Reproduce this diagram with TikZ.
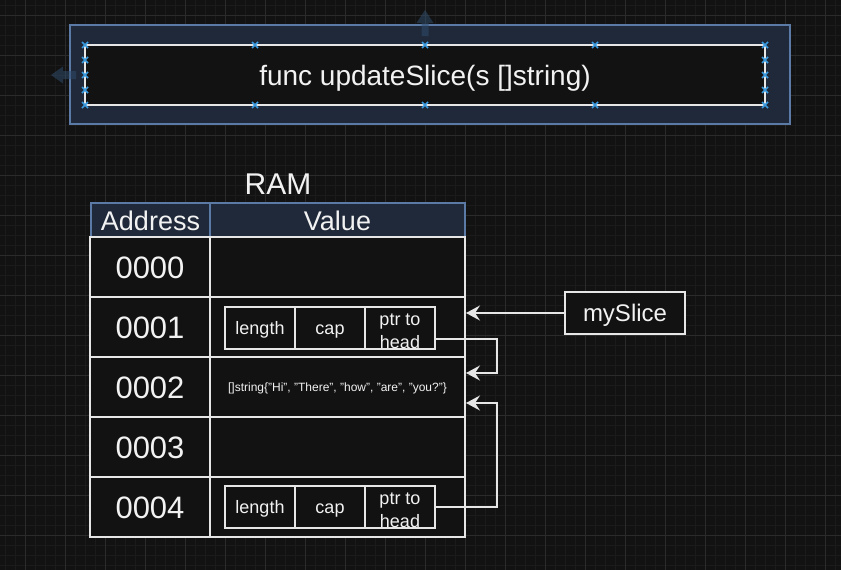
\documentclass[tikz,border=0pt]{standalone}
\usepackage{fontspec}
\setmainfont{Liberation Sans}
\usetikzlibrary{arrows.meta,positioning,calc}
\definecolor{bgc}{HTML}{121212}
\definecolor{gridminor}{HTML}{1B1B1B}
\definecolor{gridmajor}{HTML}{2B2B2B}
\definecolor{wline}{HTML}{E6E6E6}
\definecolor{txt}{HTML}{F2F2F2}
\definecolor{bstroke}{HTML}{5B7AA6}
\definecolor{bfill}{HTML}{1F2939}
\definecolor{handle}{HTML}{3A9AE0}
\definecolor{ghost}{HTML}{2E4C6B}
\tikzset{
  fsz/.style n args={3}{font=\fontsize{#1}{#1}\selectfont, text height=#2, text depth=#3},
  cell/.style={draw=wline, line width=2pt, fill=bgc, text=txt, inner sep=0pt, anchor=center},
  hdr/.style={draw=bstroke, line width=2pt, fill=bfill, text=txt, inner sep=0pt, anchor=center, fsz={27}{25.1pt}{5.1pt}},
  addr/.style={cell, minimum width=120pt, minimum height=60pt, fsz={31}{28.8pt}{5.9pt}},
  valc/.style={cell, minimum width=255pt, minimum height=60pt},
  sub/.style={cell, minimum width=70pt, minimum height=42pt, fsz={18}{16.9pt}{3.2pt}},
  twoline/.style={label={[text=txt, inner sep=0pt, align=center, font=\fontsize{18}{23.5}\selectfont, yshift=-3.5pt]center:#1}},
  conn/.style={draw=wline, line width=2.5pt, -{Stealth[length=14pt,width=15pt,inset=5pt]}},
  hmark/.style={draw=handle, line width=1.5pt},
  ghostarrow/.style={fill=ghost, fill opacity=0.55},
}
\newcommand{\hx}[2]{\draw[hmark] (#1-3,#2-3) -- (#1+3,#2+3) (#1-3,#2+3) -- (#1+3,#2-3);}
\begin{document}
\begin{tikzpicture}[x=1pt,y=-1pt]
\useasboundingbox (0,0) rectangle (841,570);
\fill[bgc] (0,0) rectangle (841,570);
% grid
\foreach \i in {5,15,...,845} \draw[gridminor, line width=0.8pt] (\i,0) -- (\i,570);
\foreach \j in {5,15,...,575} \draw[gridminor, line width=0.8pt] (0,\j) -- (841,\j);
\foreach \i in {25,65,...,845} \draw[gridmajor, line width=1pt] (\i,0) -- (\i,570);
\foreach \j in {15,55,...,575} \draw[gridmajor, line width=1pt] (0,\j) -- (841,\j);

% function box
\node[draw=bstroke, line width=2pt, fill=bfill, minimum width=720pt, minimum height=99pt, inner sep=0pt] (outer) at (430,74.5) {};
\node[draw=wline, line width=2pt, fill=bgc, minimum width=680pt, minimum height=60pt, inner sep=0pt, text=txt, fsz={28}{26pt}{5pt}] (func) at (425,75) {func updateSlice(s []string)};

% ghost arrows (editor hints)
\fill[ghostarrow] (421.5,36) -- (421.5,23) -- (416.5,23) -- (425,10) -- (433.5,23) -- (428.5,23) -- (428.5,36) -- cycle;
\fill[ghostarrow] (76,71) -- (63,71) -- (63,66.5) -- (51,75) -- (63,83.5) -- (63,79) -- (76,79) -- cycle;

\foreach \xx in {85,255,425,595,765} {\hx{\xx}{45}\hx{\xx}{105}}
\foreach \yy in {60,75,90} {\hx{85}{\yy}\hx{765}{\yy}}

% RAM table
\node[text=txt, inner sep=0pt, fsz={30}{27.9pt}{5.7pt}] (ram) at (278,183) {RAM};
\node[hdr, minimum width=119pt, minimum height=34pt] (haddr) at (150.5,220) {Address};
\node[hdr, minimum width=255pt, minimum height=34pt] (hval) at (337.5,220) {Value};

\node[addr] (a0) at (150,267) {0000};
\node[valc] (v0) at (337.5,267) {};
\node[addr] (a1) at (150,327) {0001};
\node[valc] (v1) at (337.5,327) {};
\node[addr] (a2) at (150,387) {0002};
\node[valc, fsz={12}{11.2pt}{2.3pt}] (v2) at (337.5,387) {[]string\{"Hi", "There", "how", "are", "you?"\}};
\node[addr] (a3) at (150,447) {0003};
\node[valc] (v3) at (337.5,447) {};
\node[addr] (a4) at (150,507) {0004};
\node[valc] (v4) at (337.5,507) {};

% slice headers
\node[sub] (len1) at (260,328) {length};
\node[sub] (cap1) at (330,328) {cap};
\node[sub, twoline={ptr to\\head}] (ptr1) at (400,328) {};
\node[sub] (len4) at (260,507) {length};
\node[sub] (cap4) at (330,507) {cap};
\node[sub, twoline={ptr to\\head}] (ptr4) at (400,507) {};

% mySlice
\node[cell, minimum width=120pt, minimum height=42pt, fsz={24}{22.3pt}{4.6pt}] (ms) at (625,313) {mySlice};

% connectors
\draw[conn] (ms.west) -- (ms.west -| v1.east);
\draw[conn] ([yshift=-11pt]ptr1.east) -- ++(61,0) |- ([yshift=14pt]v2.east);
\draw[conn] (ptr4.east) -- ++(61,0) |- ([yshift=-16pt]v2.east);
\end{tikzpicture}
\end{document}
